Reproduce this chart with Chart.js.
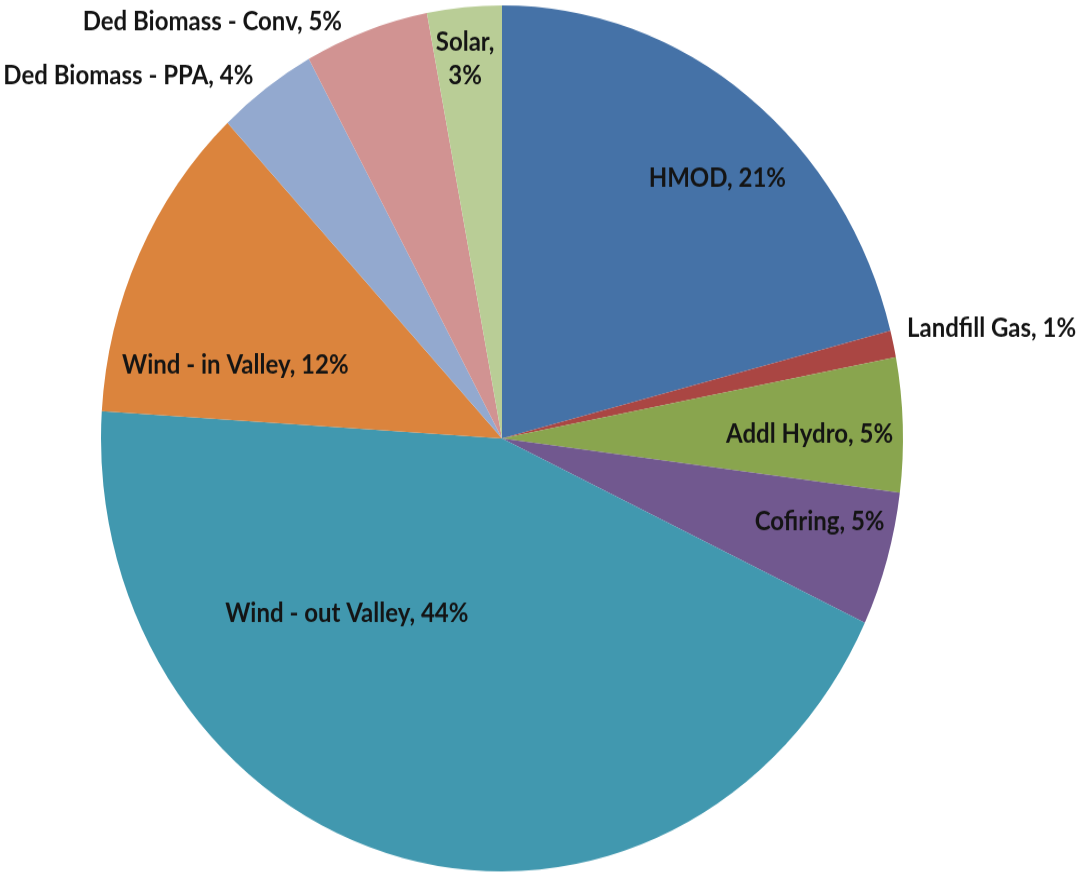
<!DOCTYPE html>
<html>
<head>
<meta charset="utf-8">
<script src="https://cdn.jsdelivr.net/npm/chart.js@4.4.1/dist/chart.umd.min.js"></script>
<style>
  html, body { margin: 0; padding: 0; background: #fff; }
  body { width: 1080px; height: 873px; }
  /* the pie is drawn a little taller than it is wide */
  #wrap { width: 1080px; height: 809px; transform: scale(1, 1.0798); transform-origin: 0 0; }
</style>
</head>
<body>
<div id="wrap"><canvas id="mixChart" width="1080" height="809"></canvas></div>
<script>
var sources = ['HMOD', 'Landfill Gas', 'Addl Hydro', 'Cofiring', 'Wind - out Valley',
               'Wind - in Valley', 'Ded Biomass - PPA', 'Ded Biomass - Conv', 'Solar'];
var shares = [21, 1, 5, 5, 44, 12, 4, 5, 3];
var sliceColors = ['#4572A7', '#AA4643', '#89A54E', '#71588F', '#4198AF',
                   '#DB843D', '#93A9CF', '#D19392', '#B9CD96'];

// label anchor in pie radii from the centre (x, baseline y)
var labelSpots = [
    { x: 0.537, y: -0.580, align: 'center' },
    { x: 1.010, y: -0.235, align: 'left' },
    { x: 0.767, y: 0.009, align: 'center' },
    { x: 0.792, y: 0.212, align: 'center' },
    { x: -0.387, y: 0.424, align: 'center' },
    { x: -0.665, y: -0.149, align: 'center' },
    { x: -0.620, y: -0.819, align: 'right' },
    { x: -0.399, y: -0.942, align: 'right' },
    { x: -0.092, y: -0.896, align: 'center', wrap: true }
];

var sliceLabels = {
    id: 'sliceLabels',
    afterDatasetsDraw: function(chart) {
        var ctx = chart.ctx;
        var arc = chart.getDatasetMeta(0).data[0];
        var r = arc.outerRadius;
        ctx.save();
        ctx.font = 'bold 24px Lato';
        ctx.fillStyle = '#141414';
        ctx.textBaseline = 'alphabetic';
        labelSpots.forEach(function(spot, i) {
            var name = chart.data.labels[i];
            var pct = chart.data.datasets[0].data[i] + '%';
            var x = arc.x + spot.x * r;
            var y = arc.y + spot.y * r;
            ctx.textAlign = spot.align;
            if (spot.wrap) {
                ctx.fillText(name + ',', x, y);
                ctx.fillText(pct, x, y + 31);
            } else {
                ctx.fillText(name + ', ' + pct, x, y);
            }
        });
        ctx.restore();
    }
};

var ctx = document.getElementById('mixChart').getContext('2d');
var mixChart = new Chart(ctx, {
    type: 'pie',
    data: {
        labels: sources,
        datasets: [{
            data: shares,
            backgroundColor: sliceColors,
            borderWidth: 0,
            hoverOffset: 0,
            offset: 0
        }]
    },
    options: {
        responsive: false,
        animation: false,
        events: [],
        layout: { padding: { left: 101, right: 177, top: 5, bottom: 2 } },
        plugins: {
            legend: { display: false },
            tooltip: { enabled: false }
        }
    },
    plugins: [sliceLabels]
});
</script>
</body>
</html>
